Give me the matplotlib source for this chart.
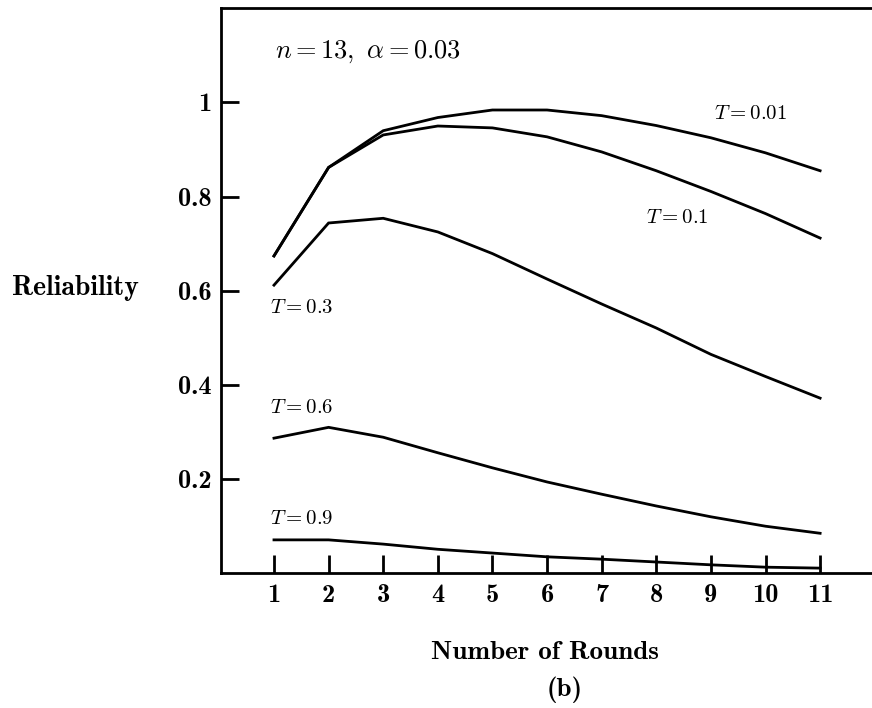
import matplotlib
matplotlib.use('Agg')
import matplotlib.pyplot as plt
import numpy as np

plt.rcParams['mathtext.fontset'] = 'cm'
plt.rcParams['axes.formatter.use_mathtext'] = True

# Data
rounds = [1, 2, 3, 4, 5, 6, 7, 8, 9, 10, 11]
rel_t001 = [0.674, 0.862, 0.940, 0.968, 0.984, 0.984, 0.972, 0.951, 0.925, 0.893, 0.855]
rel_t01 = [0.674, 0.862, 0.931, 0.950, 0.946, 0.927, 0.895, 0.855, 0.811, 0.764, 0.712]
rel_t03 = [0.612, 0.744, 0.754, 0.725, 0.679, 0.625, 0.572, 0.521, 0.465, 0.418, 0.372]
rel_t06 = [0.287, 0.310, 0.289, 0.256, 0.224, 0.194, 0.168, 0.143, 0.120, 0.100, 0.085]
rel_t09 = [0.071, 0.071, 0.062, 0.051, 0.043, 0.035, 0.030, 0.024, 0.018, 0.013, 0.011]

curves = [rel_t001, rel_t01, rel_t03, rel_t06, rel_t09]
curve_labels = [r'$T=\mathbf{0.01}$', r'$T=\mathbf{0.1}$', r'$T=\mathbf{0.3}$',
                r'$T=\mathbf{0.6}$', r'$T=\mathbf{0.9}$']
label_pos = [(9.72, 0.978), (8.38, 0.757), (1.51, 0.566), (1.51, 0.354), (1.51, 0.118)]

yticks = [0.2, 0.4, 0.6, 0.8, 1.0]
ytick_labels = ['0.2', '0.4', '0.6', '0.8', '1']

fig = plt.figure(figsize=(8.72, 7.08), dpi=100)
ax = fig.add_axes([221 / 872, 1 - 573.3 / 708, 1 - 221 / 872, (573.3 - 8.3) / 708])

for vals in curves:
    ax.plot(rounds, vals, color='black', lw=2.0, solid_joinstyle='miter')

for lab, (x, y) in zip(curve_labels, label_pos):
    ax.text(x, y, lab, fontsize=15, ha='center', va='center')

ax.text(1.02, 1.108, r'$n=13,\ \alpha=0.03$', fontsize=19, ha='left', va='center')

ax.set_xlim(0.03, 11.95)
ax.set_ylim(0, 1.2)
ax.set_xticks(rounds)
ax.set_xticklabels([str(r) for r in rounds], fontfamily='cmb10', fontsize=19)
ax.set_yticks(yticks)
ax.set_yticklabels(ytick_labels, fontfamily='cmb10', fontsize=19)
ax.tick_params(axis='x', direction='in', length=13, width=2, pad=8)
ax.tick_params(axis='y', direction='in', length=13, width=2, pad=7)

ax.spines['right'].set_visible(False)
for s in ['left', 'top', 'bottom']:
    ax.spines[s].set_linewidth(2)

fig.text(0.086, 0.593, 'Reliability', fontfamily='cmb10', fontsize=20, ha='center', va='center')
fig.text(0.625, 0.079, 'Number of Rounds', fontfamily='cmb10', fontsize=19.5, ha='center', va='center')
fig.text(0.648, 0.0254, '(b)', fontfamily='cmb10', fontsize=19.5, ha='center', va='center')

fig.savefig('out.png', dpi=100)
